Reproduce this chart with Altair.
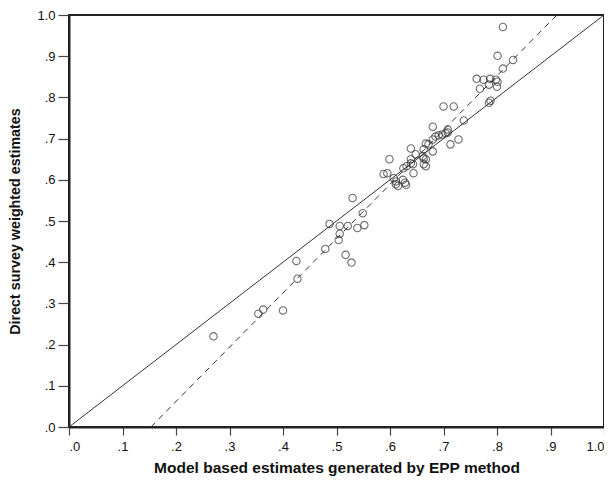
import altair as alt
import pandas as pd

# Scatter points
model_est = [
    0.270, 0.354, 0.363, 0.400, 0.427, 0.425, 0.479, 0.487, 0.506, 0.521,
    0.506, 0.504, 0.517, 0.528, 0.539, 0.552, 0.549, 0.530,
    0.588, 0.595, 0.599, 0.607, 0.611, 0.624, 0.611, 0.615, 0.628, 0.630,
    0.625, 0.631, 0.644, 0.639, 0.643, 0.639, 0.663, 0.667, 0.663, 0.667,
    0.648, 0.661, 0.639, 0.663, 0.680, 0.667, 0.672, 0.680, 0.680, 0.685,
    0.691, 0.698, 0.704, 0.708, 0.713, 0.728, 0.708, 0.700, 0.719, 0.738,
    0.762, 0.775, 0.787, 0.798, 0.801, 0.768, 0.785, 0.800, 0.788, 0.785,
    0.811, 0.830, 0.801, 0.811,
]
survey_est = [
    0.220, 0.275, 0.285, 0.283, 0.360, 0.403, 0.432, 0.493, 0.488, 0.488,
    0.469, 0.454, 0.418, 0.399, 0.483, 0.490, 0.519, 0.556,
    0.614, 0.616, 0.650, 0.604, 0.596, 0.600, 0.589, 0.585, 0.593, 0.588,
    0.628, 0.633, 0.616, 0.640, 0.638, 0.650, 0.652, 0.650, 0.638, 0.633,
    0.662, 0.657, 0.676, 0.674, 0.669, 0.688, 0.686, 0.698, 0.729, 0.705,
    0.708, 0.710, 0.713, 0.715, 0.686, 0.698, 0.722, 0.778, 0.778, 0.744,
    0.845, 0.843, 0.845, 0.843, 0.838, 0.821, 0.831, 0.826, 0.792, 0.787,
    0.870, 0.891, 0.901, 0.971,
]

# Reference lines
identity_x = [0.0, 1.0]
identity_y = [0.0, 1.0]
fit_x = [0.153, 0.912]
fit_y = [0.0, 1.0]

tick_vals = [0.0, 0.1, 0.2, 0.3, 0.4, 0.5, 0.6, 0.7, 0.8, 0.9, 1.0]

pts = pd.DataFrame({"x": model_est, "y": survey_est})
ident = pd.DataFrame({"x": identity_x, "y": identity_y})
fit = pd.DataFrame({"x": fit_x, "y": fit_y})

label_expr = "replace(format(datum.value, '.1f'), '0.', '.')"

xscale = alt.Scale(domain=[0, 1], nice=False, zero=False)
yscale = alt.Scale(domain=[0, 1], nice=False, zero=False)

xaxis = alt.Axis(
    title="Model based estimates generated by EPP method",
    values=tick_vals, labelExpr=label_expr, grid=False,
    tickSize=8, labelPadding=5, titleY=40, titleBaseline="middle",
    titleFontSize=15.5,
)
yaxis = alt.Axis(
    title="Direct survey weighted estimates",
    values=tick_vals, labelExpr=label_expr, grid=False,
    tickSize=11, labelPadding=3, titleX=-54, titleBaseline="middle",
    titleFontSize=14.3,
)

points = alt.Chart(pts).mark_point(
    shape="circle", filled=False, size=55, stroke="#333333", strokeWidth=1.1
).encode(
    x=alt.X("x:Q", scale=xscale, axis=xaxis),
    y=alt.Y("y:Q", scale=yscale, axis=yaxis),
)

ident_line = alt.Chart(ident).mark_line(color="#333333", strokeWidth=1).encode(
    x=alt.X("x:Q", scale=xscale), y=alt.Y("y:Q", scale=yscale)
)
fit_line = alt.Chart(fit).mark_line(
    color="#333333", strokeWidth=1, strokeDash=[6, 5]
).encode(x=alt.X("x:Q", scale=xscale), y=alt.Y("y:Q", scale=yscale))

chart = alt.layer(ident_line, fit_line, points).properties(
    width=535, height=412,
    autosize=alt.AutoSizeParams(type="none"),
    padding={"left": 61, "top": 7, "right": 0, "bottom": 53},
).configure_view(
    stroke="#222222", strokeWidth=2
).configure_axis(
    domainColor="#222222", domainWidth=2, tickColor="#444444", tickWidth=1.2,
    labelFont="Liberation Sans", labelFontSize=13, labelColor="#111111",
    titleFont="Liberation Sans", titleFontWeight="bold",
    titleColor="#111111",
)

chart.save("out.html", embed_options={"renderer": "svg", "actions": False})
